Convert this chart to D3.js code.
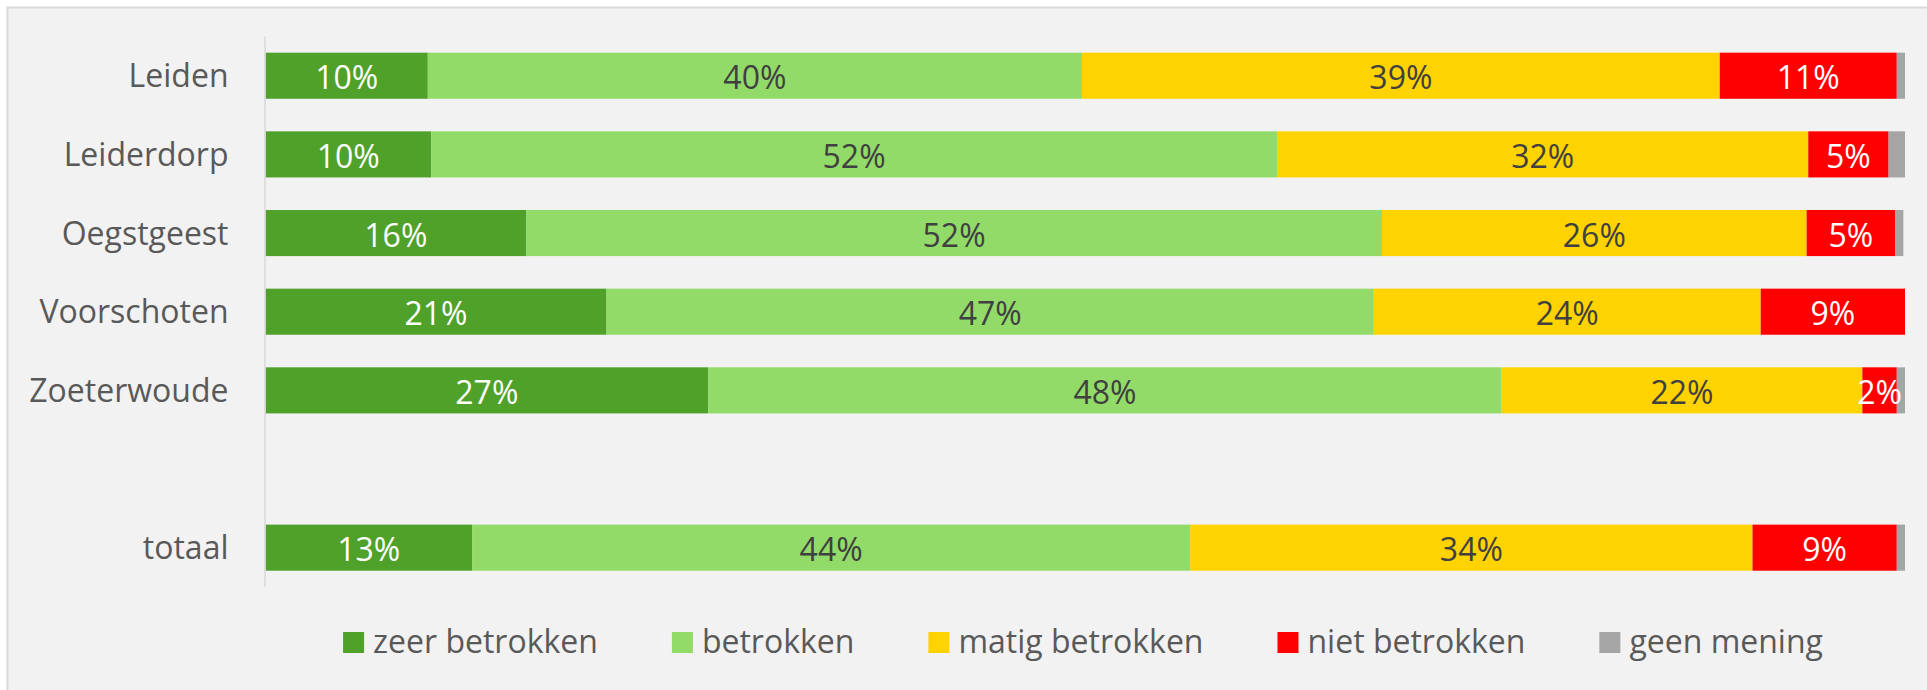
<!DOCTYPE html>
<html>
<head>
<meta charset="utf-8">
<script src="https://cdn.jsdelivr.net/npm/d3@7"></script>
<style>
  html, body { margin: 0; padding: 0; background: #fff; }
  svg { display: block; font-family: "Open Sans", sans-serif; }
</style>
</head>
<body>
<div id="container"></div>
<script>
// categories, the empty one is the gap before "totaal"
var categories = ["Leiden", "Leiderdorp", "Oegstgeest", "Voorschoten", "Zoeterwoude", "", "totaal"];
var seriesNames = ["zeer betrokken", "betrokken", "matig betrokken", "niet betrokken", "geen mening"];

// percentages per series
var zeerBetrokken  = [9.9, 10.1, 15.9, 20.8, 27.0, null, 12.6];
var betrokken      = [39.9, 51.6, 52.2, 46.8, 48.4, null, 43.8];
var matigBetrokken = [38.9, 32.4, 25.9, 23.6, 22.0, null, 34.3];
var nietBetrokken  = [10.8, 4.9, 5.4, 8.8, 2.1, null, 8.8];
var geenMening     = [0.5, 1.0, 0.5, 0, 0.5, null, 0.5];

var colors = ["#4fa12a", "#92db69", "#ffd300", "#ff0000", "#a5a5a5"];
var labelColors = ["#ffffff", "#404040", "#404040", "#ffffff", null];

var width = 1927, height = 690;
var fontSize = "32px";

var svg = d3.select("#container")
  .append("svg")
  .attr("width", width)
  .attr("height", height);

// chart area (border only top / left visible)
svg.append("rect")
  .attr("x", 7.5)
  .attr("y", 7.5)
  .attr("width", width + 20)
  .attr("height", height + 20)
  .attr("fill", "#f2f2f2")
  .attr("stroke", "#d9d9d9")
  .attr("stroke-width", 2);

var seriesValues = [zeerBetrokken, betrokken, matigBetrokken, nietBetrokken, geenMening];

var rows = categories.map(function(c, i) {
  var row = { cat: c, i: i };
  seriesNames.forEach(function(s, k) { row[s] = seriesValues[k][i] || 0; });
  return row;
});

var x = d3.scaleLinear().domain([0, 100]).range([265.5, 1905]);
var y = d3.scaleBand()
  .domain(d3.range(categories.length))
  .range([36.4, 587])
  .paddingInner(0.414)
  .paddingOuter(0.207);

var stack = d3.stack().keys(seriesNames);
var stacked = stack(rows.filter(function(d) { return d.cat !== ""; }));

// bars
var layers = svg.append("g")
  .selectAll("g")
  .data(stacked)
  .enter()
  .append("g")
  .attr("fill", function(d, k) { return colors[k]; });

layers.selectAll("rect")
  .data(function(d) { return d; })
  .enter()
  .append("rect")
  .attr("x", function(d) { return x(d[0]); })
  .attr("y", function(d) { return y(d.data.i); })
  .attr("width", function(d) { return Math.max(0, x(d[1]) - x(d[0])); })
  .attr("height", y.bandwidth());

// data labels
layers.each(function(layer, k) {
  if (!labelColors[k]) return;
  d3.select(this.parentNode).append("g")
    .selectAll("text")
    .data(layer.filter(function(d) { return d[1] - d[0] > 0; }))
    .enter()
    .append("text")
    .attr("x", function(d) { return (x(d[0]) + x(d[1])) / 2; })
    .attr("y", function(d) { return y(d.data.i) + y.bandwidth() / 2 + 1; })
    .attr("text-anchor", "middle")
    .attr("dominant-baseline", "central")
    .attr("fill", labelColors[k])
    .style("font-size", fontSize)
    .text(function(d) { return Math.round(d[1] - d[0]) + "%"; });
});

// vertical axis line
svg.append("line")
  .attr("x1", x(0) - 0.5)
  .attr("x2", x(0) - 0.5)
  .attr("y1", y.range()[0])
  .attr("y2", y.range()[1])
  .attr("stroke", "#d9d9d9")
  .attr("stroke-width", 1.5);

// category labels
var yAxis = d3.axisLeft(y)
  .tickSize(0)
  .tickPadding(37)
  .tickFormat(function(i) { return categories[i]; });

var gy = svg.append("g")
  .attr("transform", "translate(" + x(0) + ",0)")
  .call(yAxis);
gy.select(".domain").remove();
gy.selectAll("text")
  .attr("fill", "#595959")
  .attr("dy", "0.36em")
  .style("font-size", fontSize)
  .style("font-family", "'Open Sans', sans-serif");

// legend
var legend = svg.append("g");
var items = legend.selectAll("g")
  .data(seriesNames)
  .enter()
  .append("g");

items.append("rect")
  .attr("x", 0)
  .attr("y", 632)
  .attr("width", 21)
  .attr("height", 21)
  .attr("fill", function(d, k) { return colors[k]; });

items.append("text")
  .attr("x", 30)
  .attr("y", 653)
  .attr("fill", "#595959")
  .style("font-size", fontSize)
  .text(function(d) { return d; });

var gap = 74, pos = 0, offsets = [];
items.each(function() {
  offsets.push(pos);
  var w = d3.select(this).select("text").node().getComputedTextLength();
  pos += 30 + w + gap;
});
var total = pos - gap;
var start = 1083 - total / 2;
items.attr("transform", function(d, k) { return "translate(" + (start + offsets[k]) + ",0)"; });
</script>
</body>
</html>
